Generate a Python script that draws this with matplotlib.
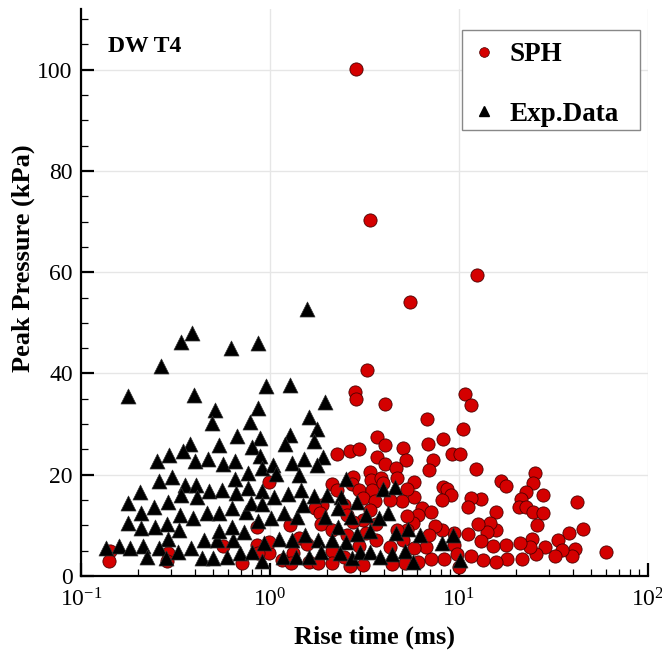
import matplotlib
matplotlib.use("Agg")
import matplotlib.pyplot as plt
from matplotlib.lines import Line2D
from matplotlib.patches import Rectangle
from matplotlib.ticker import MultipleLocator, LogLocator, NullFormatter

# ---------------- data ----------------
sph_rise = [2.85, 3.38, 12.5, 5.53, 3.27, 2.83, 2.85, 4.06, 10.8, 11.6, 10.5, 6.80, 6.82, 8.26,
            3.67, 3.68, 2.26, 2.65, 2.97, 3.38, 2.74, 3.42, 2.71, 2.12, 2.27, 2.97, 3.45, 3.12, 3.59,
            2.45, 1.88, 1.73, 1.84, 3.38, 2.56, 3.10, 2.74, 3.62, 1.85, 0.99, 1.27, 0.851, 2.12, 2.54,
            3.21, 3.64, 1.42, 1.56, 2.97, 2.13, 0.566, 0.857, 0.99, 0.99, 0.867, 1.33, 1.15, 1.29,
            1.61, 1.80, 2.12, 2.65, 3.09, 2.45, 0.708, 0.290, 0.284, 0.142, 0.141,
            4.06, 5.07, 5.22, 4.04, 4.62, 7.31, 6.90, 9.22, 10.1, 12.3, 16.6, 17.7, 25.1, 24.5, 22.6,
            21.2, 27.9, 20.8, 22.6, 24.5, 27.7, 26.0, 42.0, 45.5, 38.4, 33.3, 41.1, 39.4, 34.9, 32.2,
            59.7, 28.5, 25.5, 24.4, 23.6, 20.9, 21.5, 17.8, 17.9, 15.7, 13.4, 15.1, 15.7, 15.7, 14.6,
            14.0, 13.0, 12.6, 11.1, 11.5, 10.0, 13.0, 11.6, 11.2, 9.41, 9.41, 9.7, 8.35, 7.1, 8.1,
            7.5, 6.7, 6.9, 8.2, 8.6, 9.1, 8.1, 6.4, 7.1, 6.05, 5.7, 5.3, 5.8, 5.8, 5.3, 4.98, 4.7,
            3.85, 3.95, 4.31, 5.3, 5.07, 5.8, 6.1, 5.2, 4.4, 4.3, 4.7]
sph_peak = [100.2, 70.4, 59.5, 54.2, 40.6, 36.4, 34.9, 34.0, 36.0, 33.7, 29.0, 31.0, 26.1, 27.1,
            27.5, 23.6, 24.1, 24.6, 25.0, 20.6, 19.6, 19.0, 18.2, 18.1, 17.0, 17.0, 17.0, 15.4, 14.9,
            14.0, 14.0, 13.4, 12.4, 13.0, 12.1, 11.1, 10.7, 10.3, 10.3, 18.6, 10.1, 9.7, 9.1, 8.1,
            8.4, 7.1, 7.6, 6.3, 6.0, 4.9, 6.0, 6.1, 4.5, 6.8, 4.5, 4.5, 3.2, 2.5,
            2.8, 2.5, 2.6, 2.0, 2.2, 3.8, 2.6, 4.5, 3.0, 4.9, 3.0,
            25.8, 25.2, 22.9, 22.1, 21.4, 22.9, 20.9, 24.1, 24.1, 21.1, 18.7, 17.8, 20.3, 18.4, 16.5,
            15.2, 16.0, 13.7, 13.7, 12.6, 12.4, 10.1, 14.6, 9.2, 8.4, 7.2, 5.3, 4.0, 5.1, 4.0,
            4.8, 5.8, 4.3, 7.4, 5.7, 6.6, 3.3, 6.1, 3.4, 2.8, 3.2, 5.9, 9.1, 12.6, 10.5,
            8.6, 7.0, 10.2, 8.2, 4.0, 1.8, 15.3, 15.4, 13.6, 6.1, 8.4, 4.3, 3.3, 3.3, 9.1,
            9.9, 5.7, 8.1, 17.5, 17.1, 16.0, 15.0, 13.4, 12.7, 12.1, 10.5, 11.9, 15.7, 18.6, 17.1, 14.9, 19.3,
            19.3, 18.3, 15.0, 9.1, 7.1, 5.5, 2.8, 2.5, 2.4, 5.8, 9.1]

exp_rise = [0.265, 0.338, 0.386, 0.619, 0.865, 1.56,
            0.178, 0.398, 0.953, 1.27, 1.95, 0.514, 0.491, 0.867, 0.783, 1.61, 1.77, 1.71, 1.28, 1.20,
            0.667, 0.885, 0.540, 0.378, 0.345, 0.800, 0.889, 0.293, 0.252, 0.403, 0.468, 0.566, 0.655,
            0.904, 1.04, 1.07, 1.31, 1.51, 1.90, 1.77, 1.43, 0.767, 0.655, 0.302, 0.257, 0.204, 0.178,
            0.355, 0.406, 0.338, 0.412, 0.478, 0.560, 0.658, 0.767, 0.910, 1.05, 1.24, 1.45, 1.71,
            2.01, 2.37, 2.52, 2.90, 0.242, 0.287, 0.207, 0.177, 0.207, 0.247, 0.285, 0.334, 0.393,
            0.462, 0.540, 0.627, 0.746, 0.791, 0.904, 0.867, 1.01, 1.19, 1.39, 1.50, 1.95, 2.30, 2.30,
            2.67, 3.21, 0.331, 0.290, 0.448, 0.525, 0.637, 0.540, 0.627, 0.731, 1.53, 1.80, 2.12, 2.52,
            2.90, 3.38, 1.11, 1.30, 0.135, 0.159, 0.182, 0.214, 0.257, 0.325, 0.380, 0.223, 0.282,
            0.435, 0.501, 0.590, 0.694, 0.800, 0.933, 0.904, 1.17, 1.37, 1.60, 1.85, 2.35, 2.71, 2.99,
            3.38, 3.95, 4.58, 4.23, 3.79, 4.64, 5.35, 6.22, 8.1, 9.3, 10.1, 4.4, 5.2, 5.7, 3.82]
exp_peak = [41.4, 46.3, 48.0, 45.0, 46.1, 52.7,
            35.6, 35.8, 37.5, 37.7, 34.4, 32.7, 30.3, 33.1, 30.5, 31.4, 29.0, 26.7, 27.9, 26.0,
            27.7, 27.2, 25.9, 26.0, 24.7, 25.4, 23.7, 23.9, 22.7, 22.7, 23.1, 22.1, 22.7,
            21.3, 21.9, 20.1, 22.4, 23.1, 23.5, 21.9, 20.0, 20.3, 19.1, 19.6, 18.8, 16.5, 14.4,
            18.0, 18.0, 16.0, 15.6, 16.7, 16.9, 16.3, 17.3, 16.7, 15.7, 16.2, 17.0, 15.8,
            16.0, 15.7, 19.1, 14.7, 13.7, 14.7, 12.4, 10.4, 9.4, 9.7, 10.3, 12.1, 11.5,
            12.4, 12.5, 13.4, 12.6, 14.5, 14.2, 10.9, 11.4, 12.4, 11.7, 14.0, 11.7, 9.7, 13.4,
            11.7, 12.1, 9.1, 7.4, 7.1, 7.1, 7.2, 8.8, 9.7, 8.6, 8.1, 7.2, 7.1, 6.8,
            8.3, 8.8, 7.4, 7.1, 5.6, 6.0, 5.6, 6.0, 5.5, 4.7, 5.5, 3.8, 3.5,
            3.6, 3.6, 3.8, 4.5, 4.8, 6.5, 3.0, 3.7, 3.8, 3.8, 4.7, 4.5, 3.5, 4.8,
            4.8, 17.1, 17.5, 12.4, 11.4, 8.4, 9.2, 8.1, 6.6, 8.1, 3.2, 4.3, 5.0, 2.8, 3.8]

x_ticks = [0.1, 1, 10, 100]
x_tick_labels = [r"$10^{-1}$", r"$10^{0}$", r"$10^{1}$", r"$10^{2}$"]
y_ticks = [0, 20, 40, 60, 80, 100]

# ---------------- style ----------------
plt.rcParams["font.family"] = ["Liberation Serif", "DejaVu Serif"]
plt.rcParams["mathtext.fontset"] = "custom"
plt.rcParams["mathtext.rm"] = "Liberation Serif"
plt.rcParams["mathtext.it"] = "Liberation Serif:italic"
plt.rcParams["mathtext.bf"] = "Liberation Serif:bold"

fig = plt.figure(figsize=(6.62, 6.51), dpi=100)
ax = fig.add_axes([0.1224, 0.1152, 0.8565, 0.871])

red = "#d40000"
ax.scatter(sph_rise, sph_peak, s=9.5 ** 2, marker="o", facecolor=red,
           edgecolor="#4a0000", linewidths=0.6, zorder=3)
ax.scatter(exp_rise, exp_peak, s=10.8 ** 2, marker="^", facecolor="black",
           edgecolor="#333333", linewidths=0.5, zorder=4)

ax.set_xscale("log")
ax.set_xlim(0.1, 100)
ax.set_ylim(0, 112)

ax.set_xticks(x_ticks)
ax.set_xticklabels(x_tick_labels)
ax.xaxis.set_minor_locator(LogLocator(base=10, subs=range(2, 10)))
ax.xaxis.set_minor_formatter(NullFormatter())
ax.set_yticks(y_ticks)
ax.yaxis.set_minor_locator(MultipleLocator(5))

for s in ["top", "right"]:
    ax.spines[s].set_visible(False)
for s in ["left", "bottom"]:
    ax.spines[s].set_linewidth(1.6)

ax.tick_params(which="major", direction="in", length=9.5, width=1.6, labelsize=17,
               top=False, right=False)
ax.tick_params(which="minor", direction="in", length=5, width=0.9,
               top=False, right=False)
ax.tick_params(axis="x", which="major", pad=9)
ax.tick_params(axis="y", which="major", pad=6)

ax.grid(True, which="major", color="#e6e6e6", linewidth=1.0, zorder=0)
ax.set_axisbelow(True)

ax.set_xlabel("Rise time (ms)", fontsize=19, fontweight="bold", labelpad=10, x=0.518)
ax.set_ylabel("Peak Pressure (kPa)", fontsize=19, fontweight="bold", labelpad=2, y=0.561)

ax.text(0.048, 0.933, "DW T4", transform=ax.transAxes, fontsize=17,
        fontweight="bold", ha="left", va="center")

# legend box
ax.add_patch(Rectangle((0.672, 0.7866), 0.986 - 0.672, 0.963 - 0.7866,
                       transform=ax.transAxes, facecolor="white", edgecolor="#888888",
                       linewidth=1.0, zorder=5))
handles = [
    Line2D([], [], linestyle="none", marker="o", markersize=7, markerfacecolor=red,
           markeredgecolor="#4a0000", markeredgewidth=0.5, label="SPH"),
    Line2D([], [], linestyle="none", marker="^", markersize=7.5, markerfacecolor="black",
           markeredgecolor="black", label="Exp.Data"),
]
leg = ax.legend(handles=handles, loc="upper left", bbox_to_anchor=(0.672, 0.956),
                borderaxespad=0, frameon=False,
                prop={"family": "Liberation Serif", "weight": "bold", "size": 19.5},
                labelspacing=1.28, handlelength=1.0, handletextpad=0.45,
                borderpad=0.3)
leg.set_zorder(6)

fig.savefig("out.png", dpi=100)
